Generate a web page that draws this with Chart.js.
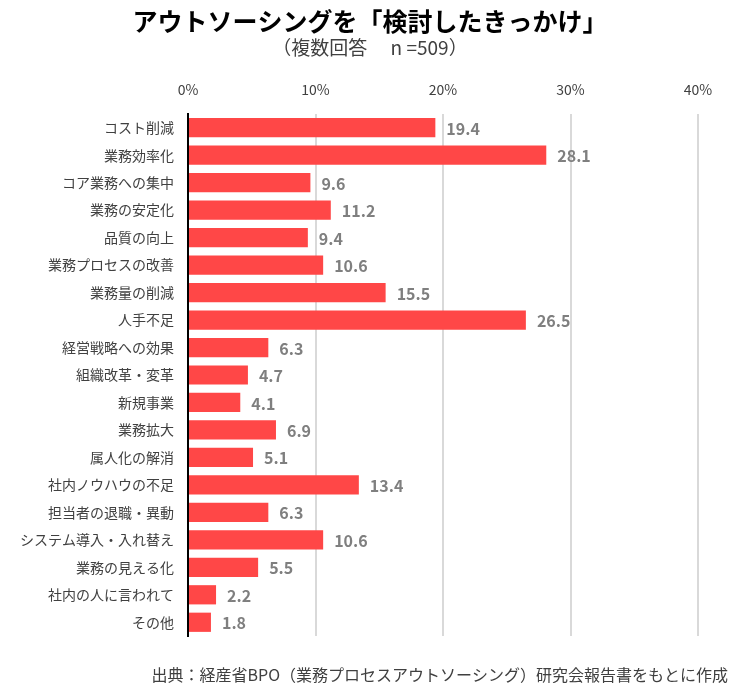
<!DOCTYPE html>
<html>
<head>
<meta charset="utf-8">
<script src="https://cdn.jsdelivr.net/npm/chart.js@4/dist/chart.umd.min.js"></script>
<style>
    html, body { margin: 0; padding: 0; background: #fff; }
    #wrap { width: 739px; height: 698px; position: relative; }
</style>
</head>
<body>
<div id="wrap"><canvas id="reasonChart" width="739" height="698"></canvas></div>
<script>
const FONT = '"Noto Sans CJK JP", "Noto Sans", sans-serif';

// data
const reasons = [
    'コスト削減', '業務効率化', 'コア業務への集中', '業務の安定化', '品質の向上',
    '業務プロセスの改善', '業務量の削減', '人手不足', '経営戦略への効果', '組織改革・変革',
    '新規事業', '業務拡大', '属人化の解消', '社内ノウハウの不足', '担当者の退職・異動',
    'システム導入・入れ替え', '業務の見える化', '社内の人に言われて', 'その他'
];
const percents = [19.4, 28.1, 9.6, 11.2, 9.4, 10.6, 15.5, 26.5, 6.3, 4.7, 4.1, 6.9, 5.1, 13.4, 6.3, 10.6, 5.5, 2.2, 1.8];
const xTicks = [0, 10, 20, 30, 40];

const titleText = 'アウトソーシングを「検討したきっかけ」';
const subtitleText = '（複数回答　 n =509）';
const sourceText = '出典：経産省BPO（業務プロセスアウトソーシング）研究会報告書をもとに作成';

// title, value labels and source note
const decorPlugin = {
    id: 'decor',
    afterDatasetsDraw(chart) {
        const ctx = chart.ctx;
        const meta = chart.getDatasetMeta(0);
        ctx.save();
        ctx.fillStyle = '#7f7f7f';
        ctx.font = 'bold 16px ' + FONT;
        ctx.textAlign = 'left';
        ctx.textBaseline = 'middle';
        meta.data.forEach((bar, i) => {
            ctx.fillText(percents[i].toFixed(1), bar.x + 11, bar.y + 1);
        });
        ctx.restore();
    },
    afterDraw(chart) {
        const ctx = chart.ctx;
        ctx.save();
        ctx.textAlign = 'center';
        ctx.textBaseline = 'middle';
        ctx.fillStyle = '#000';
        ctx.font = 'bold 25px ' + FONT;
        ctx.fillText(titleText, 370, 21);
        ctx.fillStyle = '#404040';
        ctx.font = '19px ' + FONT;
        ctx.fillText(subtitleText, 370, 48);
        ctx.textAlign = 'right';
        ctx.font = '16px ' + FONT;
        ctx.fillText(sourceText, 728, 675);
        ctx.restore();
    }
};

new Chart(document.getElementById('reasonChart'), {
    type: 'bar',
    data: {
        labels: reasons,
        datasets: [{
            data: percents,
            backgroundColor: '#ff4747',
            borderWidth: 0,
            barPercentage: 0.7,
            categoryPercentage: 1.0
        }]
    },
    options: {
        indexAxis: 'y',
        responsive: false,
        animation: false,
        layout: { padding: { top: 70, bottom: 62, left: 0, right: 41 } },
        scales: {
            x: {
                position: 'top',
                min: 0,
                max: 40,
                afterBuildTicks: (scale) => { scale.ticks = xTicks.map(v => ({ value: v })); },
                afterFit: (scale) => { scale.height = 44; },
                grid: { color: '#d9d9d9', lineWidth: 2, drawTicks: false },
                border: { display: false },
                ticks: {
                    padding: 16,
                    color: '#404040',
                    font: { family: FONT, size: 14 },
                    callback: (v) => v + '%'
                }
            },
            y: {
                afterFit: (scale) => { scale.width = 188; },
                grid: { display: false, drawTicks: false },
                border: { display: true, color: '#000', width: 2 },
                ticks: {
                    padding: 14,
                    color: '#404040',
                    font: { family: FONT, size: 14 }
                }
            }
        },
        plugins: {
            legend: { display: false },
            title: { display: false },
            tooltip: { enabled: false }
        }
    },
    plugins: [decorPlugin]
});
</script>
</body>
</html>
